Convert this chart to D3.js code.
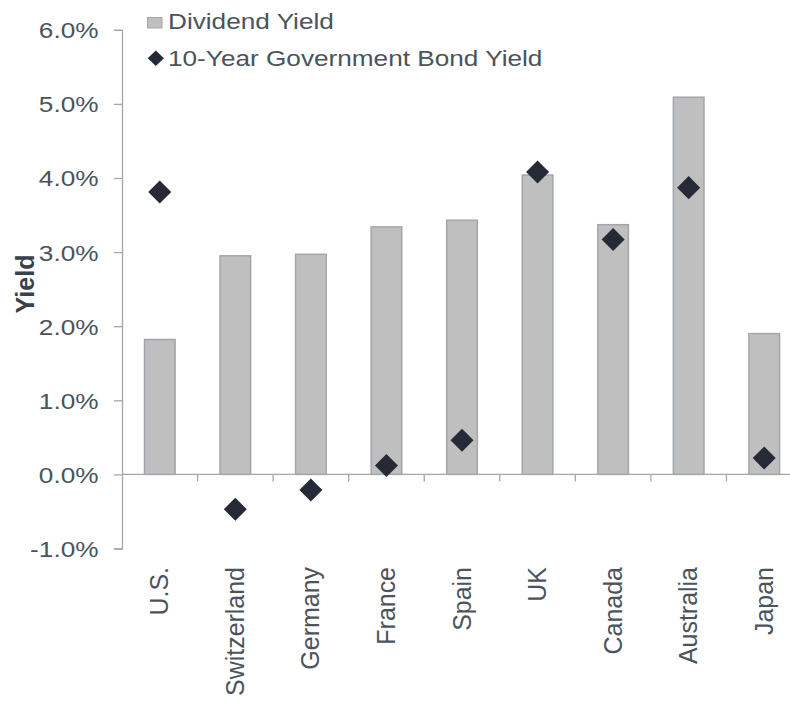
<!DOCTYPE html>
<html>
<head>
<meta charset="utf-8">
<script src="https://cdn.jsdelivr.net/npm/d3@7"></script>
<style>
  body { margin: 0; background: #fff; }
  svg { font-family: "Liberation Sans", Arial, sans-serif; }
</style>
</head>
<body>
<svg id="chart" width="790" height="701"></svg>
<script>
// chart data
const countries = ["U.S.", "Switzerland", "Germany", "France", "Spain", "UK", "Canada", "Australia", "Japan"];
const dividendYield = [1.82, 2.95, 2.97, 3.34, 3.43, 4.04, 3.37, 5.09, 1.90];
const bondYield = [3.81, -0.47, -0.21, 0.12, 0.46, 4.08, 3.17, 3.87, 0.22];
const yTicks = [-1, 0, 1, 2, 3, 4, 5, 6];

const svg = d3.select("#chart");
const textColor = "#4b535c";
const axisColor = "#a6a6a6";
const stretch = 1.19; // text in the original is wider than normal

const x = d3.scaleBand()
    .domain(countries)
    .range([122, 802])
    .paddingInner(0)
    .paddingOuter(0);

const y = d3.scaleLinear()
    .domain([-1, 6])
    .range([548.5, 29.8]);

// y axis
const yAxis = svg.append("g")
    .attr("transform", "translate(122,0)")
    .call(d3.axisLeft(y).tickValues(yTicks).tickSize(8)
        .tickFormat(d => d.toFixed(1) + "%"));
yAxis.select(".domain").attr("stroke", axisColor).attr("stroke-width", 1.3);
yAxis.selectAll(".tick line").attr("stroke", axisColor).attr("stroke-width", 1.3);
yAxis.selectAll(".tick text")
    .attr("x", null)
    .attr("dy", "0.36em")
    .attr("transform", `translate(-23.5,0) scale(${stretch},1)`)
    .attr("fill", textColor)
    .style("font-size", "22px");

// x axis at zero
const xAxis = svg.append("g")
    .attr("transform", `translate(0,${y(0)})`);
xAxis.append("line")
    .attr("x1", 122).attr("x2", 790)
    .attr("stroke", axisColor).attr("stroke-width", 1.3);
xAxis.selectAll("line.tick")
    .data(countries.slice(1))
    .enter().append("line")
    .attr("class", "tick")
    .attr("x1", d => x(d)).attr("x2", d => x(d))
    .attr("y1", 0).attr("y2", 7)
    .attr("stroke", axisColor).attr("stroke-width", 1.3);

// bars
svg.append("g")
    .selectAll("rect")
    .data(countries)
    .enter().append("rect")
    .attr("x", d => x(d) + x.bandwidth() / 2 - 15.3)
    .attr("width", 30.6)
    .attr("y", (d, i) => y(dividendYield[i]))
    .attr("height", (d, i) => y(0) - y(dividendYield[i]))
    .attr("fill", "#bfbfbf")
    .attr("stroke", "#a2a6aa")
    .attr("stroke-width", 1.5);

// diamonds
const diamond = d3.symbol().type(d3.symbolSquare).size(265);
svg.append("g")
    .selectAll("path")
    .data(countries)
    .enter().append("path")
    .attr("d", diamond)
    .attr("transform", (d, i) => `translate(${x(d) + x.bandwidth() / 2},${y(bondYield[i])}) rotate(45)`)
    .attr("fill", "#262a37");

// category labels
svg.append("g")
    .selectAll("text")
    .data(countries)
    .enter().append("text")
    .attr("transform", d => `translate(${x(d) + x.bandwidth() / 2 + 8.5},567) rotate(-90) scale(1.04,1.04)`)
    .attr("text-anchor", "end")
    .attr("fill", textColor)
    .style("font-size", "24px")
    .text(d => d);

// y label
svg.append("text")
    .attr("transform", "translate(34,284) rotate(-90)")
    .attr("text-anchor", "middle")
    .attr("fill", "#39414a")
    .style("font-size", "25px")
    .style("font-weight", "bold")
    .text("Yield");

// legend
const legend = svg.append("g");
legend.append("rect")
    .attr("x", 147.5).attr("y", 17.5)
    .attr("width", 14.5).attr("height", 10.5)
    .attr("fill", "#bfbfbf")
    .attr("stroke", "#a2a6aa")
    .attr("stroke-width", 1);
legend.append("text")
    .attr("transform", `translate(168,29.3) scale(${stretch},1)`)
    .attr("fill", textColor)
    .style("font-size", "22px")
    .text("Dividend Yield");
legend.append("path")
    .attr("d", d3.symbol().type(d3.symbolSquare).size(118))
    .attr("transform", "translate(155.8,58.2) scale(1.06,1) rotate(45)")
    .attr("fill", "#262a37");
legend.append("text")
    .attr("transform", `translate(168,65.7) scale(${stretch},1)`)
    .attr("fill", textColor)
    .style("font-size", "22px")
    .text("10-Year Government Bond Yield");
</script>
</body>
</html>
